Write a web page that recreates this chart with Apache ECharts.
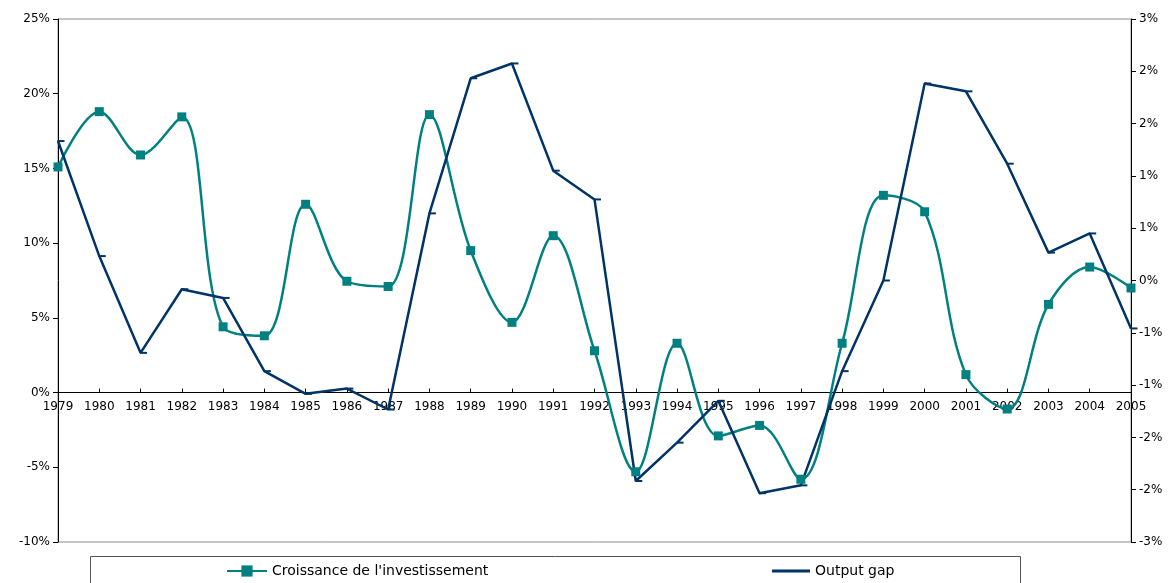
<!DOCTYPE html>
<html>
<head>
<meta charset="utf-8">
<script src="https://cdn.jsdelivr.net/npm/echarts@6/dist/echarts.min.js"></script>
<style>
  html, body { margin: 0; padding: 0; background: #fff; }
  #chart { width: 1174px; height: 583px; }
</style>
</head>
<body>
<div id="chart"></div>
<script>
// années
const years = ['1979', '1980', '1981', '1982', '1983', '1984', '1985', '1986', '1987', '1988',
  '1989', '1990', '1991', '1992', '1993', '1994', '1995', '1996', '1997', '1998',
  '1999', '2000', '2001', '2002', '2003', '2004', '2005'];

// croissance de l'investissement (axe gauche, %)
const investissement = [15.1, 18.8, 15.9, 18.45, 4.4, 3.8, 12.6, 7.45, 7.1, 18.6,
  9.5, 4.7, 10.5, 2.8, -5.3, 3.3, -2.9, -2.2, -5.8, 3.3,
  13.2, 12.1, 1.2, -1.1, 5.9, 8.4, 7.0];

// output gap (axe droit, %)
const outputGap = [1.60, 0.28, -0.83, -0.10, -0.20, -1.04, -1.30, -1.24, -1.48, 0.77,
  2.32, 2.49, 1.26, 0.93, -2.30, -1.86, -1.38, -2.44, -2.35, -1.04,
  0.0, 2.26, 2.17, 1.34, 0.32, 0.54, -0.55];

const FONT = 'DejaVu Sans';
const TEAL = '#008080';
const NAVY = '#003366';

// axe gauche : -10 .. 25 sur la hauteur de la grille
const GRID_TOP = 19, GRID_BOTTOM = 41, H = 583;
const plotH = H - GRID_TOP - GRID_BOTTOM;
const zeroOffset = plotH * 10 / 35;   // position du 0% au-dessus du bas

const chart = echarts.init(document.getElementById('chart'));

const option = {
  animation: false,
  backgroundColor: '#fff',
  textStyle: { fontFamily: FONT },
  grid: {
    left: 58, right: 43, top: GRID_TOP, bottom: GRID_BOTTOM,
    show: true, borderColor: '#8c8c8c', borderWidth: 1
  },
  graphic: [{
    type: 'rect',
    shape: { x: 90.5, y: 556.5, width: 930, height: 40 },
    style: { fill: 'none', stroke: '#555', lineWidth: 1 },
    z: 0
  }],
  legend: [
    {
      data: ["Croissance de l'investissement"],
      left: 226, top: 564, padding: 0,
      itemWidth: 40, itemHeight: 14,
      textStyle: { fontFamily: FONT, fontSize: 14, color: '#000' }
    },
    {
      data: [{ name: 'Output gap', icon: 'rect' }],
      left: 772, top: 564, padding: 0,
      itemWidth: 38, itemHeight: 3,
      textStyle: { fontFamily: FONT, fontSize: 14, color: '#000' }
    }
  ],
  xAxis: {
    type: 'category',
    data: years,
    boundaryGap: false,
    offset: -zeroOffset,
    axisLine: { onZero: false, lineStyle: { color: '#000', width: 1 } },
    axisTick: { inside: true, length: 4, lineStyle: { color: '#000' } },
    axisLabel: { color: '#000', fontFamily: FONT, fontSize: 12, margin: 8, interval: 0 },
    splitLine: { show: false }
  },
  yAxis: [
    {
      type: 'value',
      min: -10, max: 25, interval: 5,
      axisLine: { show: true, lineStyle: { color: '#000', width: 1 } },
      axisTick: { show: true, length: 5, lineStyle: { color: '#000' } },
      axisLabel: { color: '#000', fontFamily: FONT, fontSize: 12, margin: 8, formatter: '{value}%' },
      splitLine: { show: false }
    },
    {
      type: 'value',
      position: 'right',
      min: -3, max: 3, interval: 0.6,
      axisLine: { show: true, lineStyle: { color: '#000', width: 1 } },
      axisTick: { show: true, length: 5, lineStyle: { color: '#000' } },
      axisLabel: {
        color: '#000', fontFamily: FONT, fontSize: 12, margin: 8,
        formatter: v => Math.round(v) + '%'
      },
      splitLine: { show: false }
    }
  ],
  series: [
    {
      name: "Croissance de l'investissement",
      type: 'line',
      yAxisIndex: 0,
      data: investissement,
      smooth: 0.35,
      symbol: 'rect',
      symbolSize: 9,
      lineStyle: { color: TEAL, width: 2.5 },
      itemStyle: { color: TEAL }
    },
    {
      name: 'Output gap',
      type: 'line',
      yAxisIndex: 1,
      data: outputGap,
      symbol: 'rect',
      symbolSize: [7, 2],
      symbolOffset: [3, 0],
      lineStyle: { color: NAVY, width: 2.5 },
      itemStyle: { color: NAVY }
    }
  ]
};

chart.setOption(option);
</script>
</body>
</html>
